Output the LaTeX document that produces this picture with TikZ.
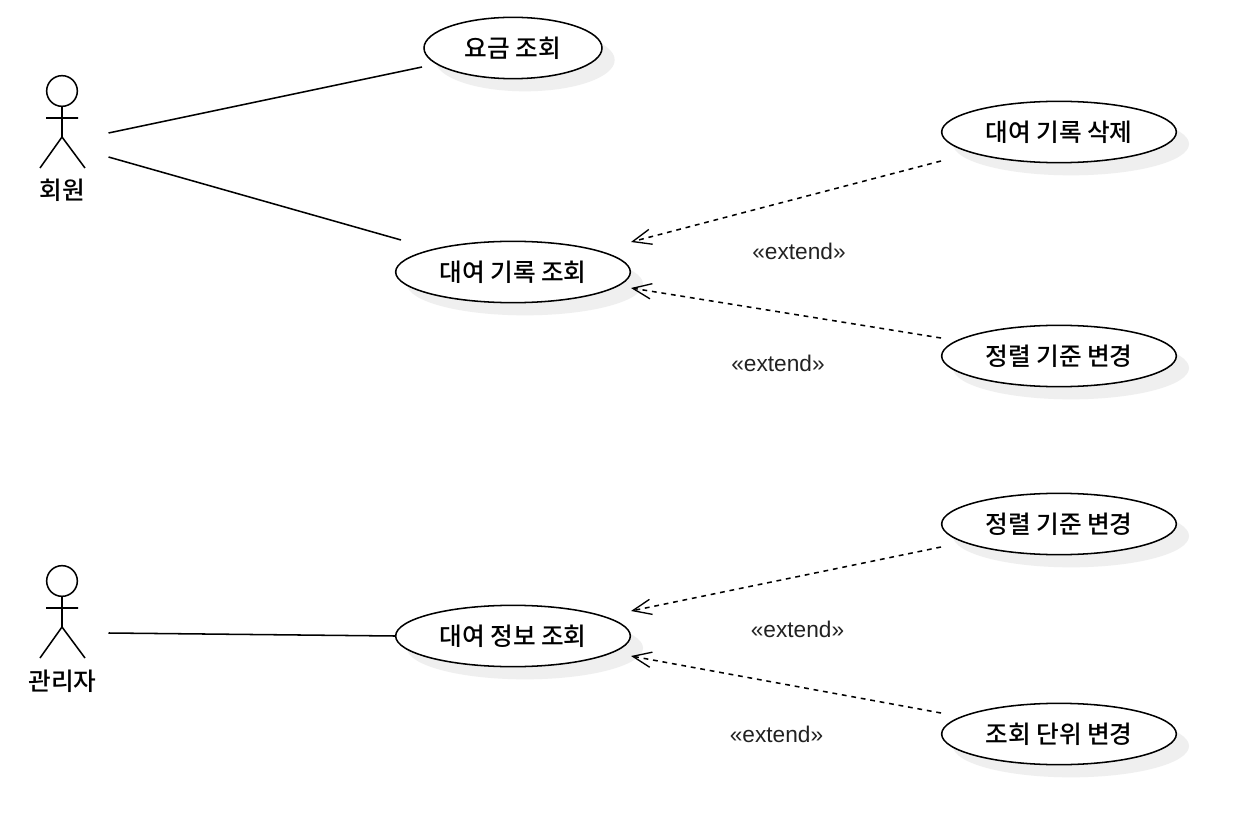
\documentclass[tikz,border=0pt]{standalone}
\usepackage{fontspec}
\setmainfont{Liberation Sans}
\newfontfamily\cjk{Noto Sans CJK KR Medium}
\usetikzlibrary{arrows.meta,shapes.geometric}
\definecolor{shade}{HTML}{EFEFEF}
\definecolor{labelink}{HTML}{222222}
\tikzset{x=0.75pt,y=-0.75pt,
 ucase/.style={ellipse,draw=black,fill=white,line width=1.15pt,minimum width=176pt,minimum height=46pt,inner sep=0pt,font=\cjk\fontsize{18.5}{20}\selectfont},
 ucsmall/.style={ucase,minimum width=133.500pt},
 ucshadow/.style={ellipse,fill=shade,draw=none,minimum width=177pt,minimum height=47pt,inner sep=0pt},
 ucshadowsmall/.style={ucshadow,minimum width=134.500pt},
 assoc/.style={line width=1.15pt,black},
 ext/.style={line width=1.15pt,black,dash pattern=on 3.6pt off 3.6pt,-{Straight Barb[length=14pt,width=11.5pt,line width=1pt]}},
 limb/.style={line width=1.15pt,black},
 head/.style={circle,draw=black,line width=1.15pt,minimum size=23pt,inner sep=0pt},
 actorlabel/.style={font=\cjk\fontsize{18.5}{20}\selectfont,inner sep=0pt},
 extlabel/.style={font=\fontsize{17}{20}\selectfont,text=labelink,inner sep=0pt},
}
\begin{document}
\begin{tikzpicture}
\useasboundingbox[fill=white] (0,0) rectangle (1246,834);
% shadows
\node[ucshadowsmall] (s1) at (525,60) {};
\node[ucshadow] (s2) at (525,284) {};
\node[ucshadow] (s3) at (525,648) {};
\node[ucshadow] (s4) at (1071,144) {};
\node[ucshadow] (s5) at (1071,368) {};
\node[ucshadow] (s6) at (1071,536) {};
\node[ucshadow] (s7) at (1071,746) {};
% use cases
\node[ucsmall] (fee) at (513,48) {요금 조회};
\node[ucase] (rent) at (513,272) {대여 기록 조회};
\node[ucase] (info) at (513,636) {대여 정보 조회};
\node[ucase] (del) at (1059,132) {대여 기록 삭제};
\node[ucase] (sort1) at (1059,356) {정렬 기준 변경};
\node[ucase] (sort2) at (1059,524) {정렬 기준 변경};
\node[ucase] (unit) at (1059,734) {조회 단위 변경};
% actors
\node[head] (h1) at (62,91) {};
\coordinate (w1) at (62,137);
\coordinate (al1) at (46,118);
\coordinate (ar1) at (78,118);
\coordinate (ll1) at (40,168);
\coordinate (lr1) at (85,168);
\draw[limb] (h1.south) -- (w1) (al1) -- (ar1) (ll1) -- (w1) -- (lr1);
\node[actorlabel] (member) at (62.500,190) {회원};
\node[head] (h2) at (62,581) {};
\coordinate (w2) at (62,627);
\coordinate (al2) at (46,608);
\coordinate (ar2) at (78,608);
\coordinate (ll2) at (40,658);
\coordinate (lr2) at (85,658);
\draw[limb] (h2.south) -- (w2) (al2) -- (ar2) (ll2) -- (w2) -- (lr2);
\node[actorlabel] (admin) at (62.500,681) {관리자};
% associations
\coordinate (a1s) at (108.500,133);
\coordinate (a1e) at (422,67);
\coordinate (a2s) at (108.500,157);
\coordinate (a2e) at (401,240);
\coordinate (a3s) at (108.500,633);
\draw[assoc] (a1s) -- (a1e);
\draw[assoc] (a2s) -- (a2e);
\draw[assoc] (a3s) -- (info.west);
% extends
\coordinate (e1s) at (941,161);
\coordinate (e1e) at (631,242);
\coordinate (e2s) at (941,338);
\coordinate (e2e) at (631,288);
\coordinate (e3s) at (941,547);
\coordinate (e3e) at (631,611);
\coordinate (e4s) at (941,713);
\coordinate (e4e) at (631,656);
\draw[ext] (e1s) -- (e1e);
\draw[ext] (e2s) -- (e2e);
\draw[ext] (e3s) -- (e3e);
\draw[ext] (e4s) -- (e4e);
\node[extlabel] (x1) at (799,251) {«extend»};
\node[extlabel] (x2) at (778,363) {«extend»};
\node[extlabel] (x3) at (797.500,629) {«extend»};
\node[extlabel] (x4) at (776.500,734) {«extend»};
\end{tikzpicture}
\end{document}
